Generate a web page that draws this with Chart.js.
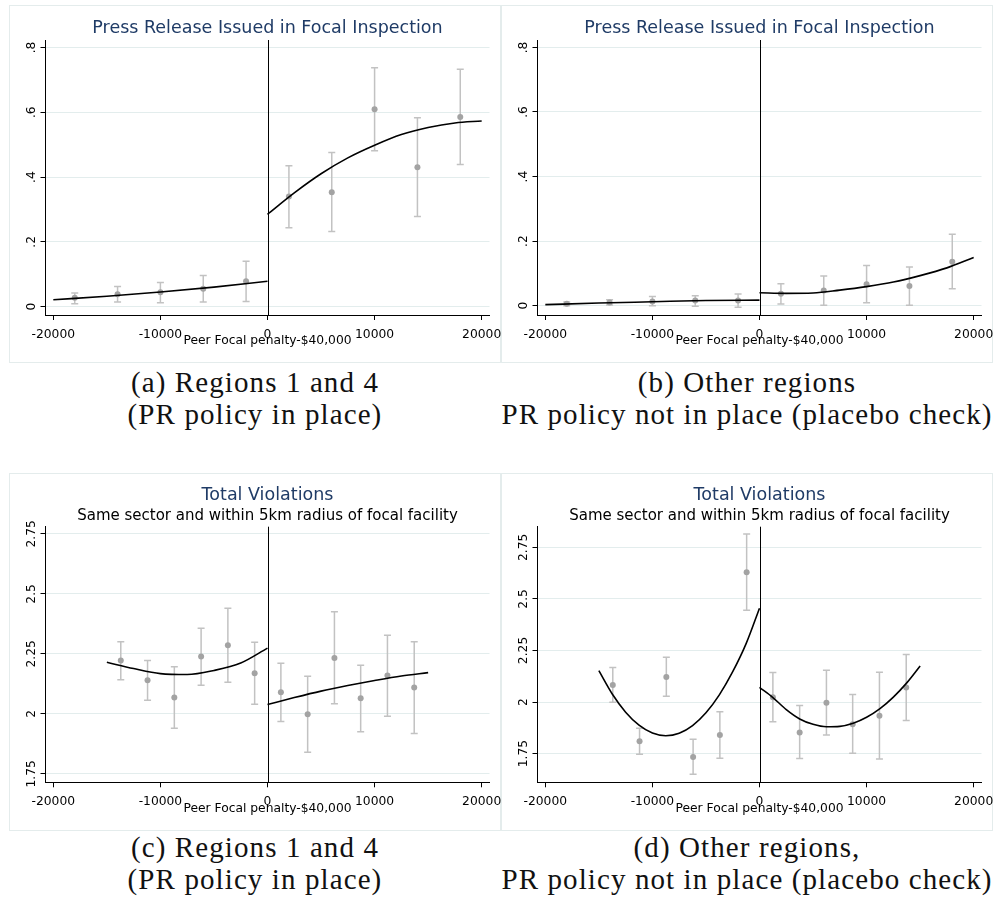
<!DOCTYPE html>
<html>
<head>
<meta charset="utf-8">
<script src="https://cdn.jsdelivr.net/npm/chart.js@4.4.1/dist/chart.umd.min.js"></script>
<style>
  body { margin: 0; background: #fff; width: 995px; height: 918px; position: relative; overflow: hidden; }
  .panel { position: absolute; width: 492px; height: 358px; border: 1px solid #e4ecec; box-sizing: border-box; }
  .panel canvas { position: absolute; left: -1px; top: -1px; }
  .cap { position: absolute; width: 492px; text-align: center; font-family: "Liberation Serif", serif;
         font-size: 29px; letter-spacing: 1.1px; line-height: 32px; color: #111; white-space: nowrap; }
</style>
</head>
<body>
<div class="panel" style="left:9px;top:5px"><canvas id="chartA" width="492" height="358"></canvas></div>
<div class="panel" style="left:501px;top:5px"><canvas id="chartB" width="492" height="358"></canvas></div>
<div class="panel" style="left:9px;top:473px"><canvas id="chartC" width="492" height="358"></canvas></div>
<div class="panel" style="left:501px;top:473px"><canvas id="chartD" width="492" height="358"></canvas></div>

<div class="cap" style="left:9px;top:366px">(a) Regions 1 and 4<br>(PR policy in place)</div>
<div class="cap" style="left:501px;top:366px">(b) Other regions<br>PR policy not in place (placebo check)</div>
<div class="cap" style="left:9px;top:831px">(c) Regions 1 and 4<br>(PR policy in place)</div>
<div class="cap" style="left:501px;top:831px">(d) Other regions,<br>PR policy not in place (placebo check)</div>

<script>
// axes
const xTicks = [-20000, -10000, 0, 10000, 20000];
const cutoff = 0;
const prTicks = [0, 0.2, 0.4, 0.6, 0.8];
const prTickLabels = ["0", ".2", ".4", ".6", ".8"];
const violTicks = [1.75, 2, 2.25, 2.5, 2.75];
const violTickLabels = ["1.75", "2", "2.25", "2.5", "2.75"];

// press release panels (a, b): binned means with 95% CI
const prBins = [-18000, -14000, -10000, -6000, -2000, 2000, 6000, 10000, 14000, 18000];
const prMeanA = [0.027, 0.038, 0.044, 0.055, 0.078, 0.340, 0.353, 0.609, 0.430, 0.585];
const prLowA  = [0.009, 0.014, 0.012, 0.014, 0.016, 0.243, 0.232, 0.481, 0.278, 0.439];
const prHighA = [0.042, 0.062, 0.074, 0.096, 0.140, 0.435, 0.476, 0.737, 0.583, 0.733];
const prMeanB = [0.006, 0.010, 0.013, 0.016, 0.016, 0.037, 0.047, 0.066, 0.061, 0.136];
const prLowB  = [0.000, 0.002, 0.000, -0.002, -0.005, 0.005, 0.001, 0.009, 0.001, 0.052];
const prHighB = [0.011, 0.018, 0.028, 0.031, 0.036, 0.068, 0.092, 0.124, 0.120, 0.221];

// fitted curves (a, b)
const prFitLeftX  = [-20000, -15000, -10000, -5000, 0];
const prFitRightX = [0, 2500, 5000, 7500, 10000, 12500, 15000, 17500, 20000];
const fitLeftA  = [0.021, 0.032, 0.045, 0.060, 0.078];
const fitRightA = [0.285, 0.351, 0.410, 0.459, 0.498, 0.531, 0.553, 0.567, 0.573];
const fitLeftB  = [0.003, 0.008, 0.012, 0.016, 0.017];
const fitRightB = [0.040, 0.038, 0.039, 0.048, 0.059, 0.073, 0.093, 0.117, 0.149];

// total violations panels (c, d)
const violBins = [-13700, -11200, -8700, -6200, -3700, -1200, 1250, 3750, 6250, 8700, 11200, 13700];
const violMeanC = [2.222, 2.140, 2.068, 2.239, 2.286, 2.169, 2.090, 1.999, 2.233, 2.065, 2.160, 2.110];
const violLowC  = [2.142, 2.057, 1.940, 2.119, 2.132, 2.040, 1.968, 1.840, 2.042, 1.926, 1.990, 1.918];
const violHighC = [2.301, 2.222, 2.196, 2.357, 2.440, 2.299, 2.211, 2.157, 2.426, 2.203, 2.328, 2.301];
const violMeanD = [2.083, 1.810, 2.122, 1.734, 1.840, 2.629, 2.023, 1.853, 1.997, 1.892, 1.934, 2.070];
const violLowD  = [1.999, 1.747, 2.028, 1.650, 1.727, 2.445, 1.905, 1.726, 1.840, 1.752, 1.724, 1.910];
const violHighD = [2.168, 1.873, 2.217, 1.820, 1.953, 2.815, 2.143, 1.983, 2.154, 2.036, 2.144, 2.230];

const fitLeftXC  = [-15000, -12500, -10000, -7500, -5000, -2500, 0];
const fitRightXC = [0, 2500, 5000, 7500, 10000, 12500, 15000];
const fitLeftC   = [2.215, 2.189, 2.168, 2.164, 2.181, 2.212, 2.274];
const fitRightC  = [2.039, 2.068, 2.095, 2.118, 2.139, 2.158, 2.172];

const fitLeftXD  = [-15000, -13750, -12500, -11250, -10000, -8750, -7500, -6250, -5000, -3750, -2500, -1250, 0];
const fitRightXD = [0, 1250, 2500, 3750, 5000, 6250, 7500, 8750, 10000, 11250, 12500, 13750, 15000];
const fitLeftD   = [2.152, 2.039, 1.951, 1.888, 1.850, 1.837, 1.849, 1.886, 1.948, 2.035, 2.147, 2.283, 2.455];
const fitRightD  = [2.071, 2.022, 1.963, 1.918, 1.892, 1.880, 1.882, 1.897, 1.926, 1.968, 2.024, 2.093, 2.175];

Chart.defaults.font.family = "DejaVu Sans";
Chart.defaults.color = "#000";

const titleColor = "#1f3b66";
const dotColor = "#a3a3a3";
const barColor = "#c2c2c2";
const gridColor = "#e3eded";

const pts = (xs, ys) => xs.map((x, i) => ({ x: x, y: ys[i] }));

// error bars, cutoff line, titles and rotated y labels
const decor = {
    id: "decor",
    beforeDatasetsDraw(chart, args, opts) {
        const { ctx, chartArea } = chart;
        const xs = chart.scales.x, ys = chart.scales.y;
        ctx.save();
        // cutoff
        const cx = Math.round(xs.getPixelForValue(cutoff)) + 0.5;
        ctx.strokeStyle = "#000";
        ctx.lineWidth = 1;
        ctx.beginPath();
        ctx.moveTo(cx, chartArea.top);
        ctx.lineTo(cx, chartArea.bottom);
        ctx.stroke();
        // CI bars
        ctx.strokeStyle = barColor;
        ctx.lineWidth = 1.5;
        opts.bins.forEach((b, i) => {
            const px = xs.getPixelForValue(b);
            const lo = ys.getPixelForValue(opts.low[i]);
            const hi = ys.getPixelForValue(opts.high[i]);
            ctx.beginPath();
            ctx.moveTo(px, lo); ctx.lineTo(px, hi);
            ctx.moveTo(px - 3.5, lo); ctx.lineTo(px + 3.5, lo);
            ctx.moveTo(px - 3.5, hi); ctx.lineTo(px + 3.5, hi);
            ctx.stroke();
        });
        ctx.restore();
    },
    afterDraw(chart, args, opts) {
        const { ctx, chartArea } = chart;
        const ys = chart.scales.y;
        const mid = (chartArea.left + chartArea.right) / 2;
        ctx.save();
        ctx.textAlign = "center";
        ctx.textBaseline = "alphabetic";
        ctx.fillStyle = titleColor;
        ctx.font = "17.5px 'DejaVu Sans'";
        ctx.fillText(opts.title, mid, opts.titleY);
        if (opts.subtitle) {
            ctx.fillStyle = "#000";
            ctx.font = "15px 'DejaVu Sans'";
            ctx.fillText(opts.subtitle, mid, opts.subtitleY);
        }
        ctx.fillStyle = "#000";
        ctx.font = "12.3px 'DejaVu Sans'";
        opts.yTicks.forEach((v, i) => {
            ctx.save();
            ctx.translate(chartArea.left - 10.5, ys.getPixelForValue(v));
            ctx.rotate(-Math.PI / 2);
            ctx.fillText(opts.yLabels[i], 0, 0);
            ctx.restore();
        });
        ctx.restore();
    }
};

function makePanel(id, p) {
    new Chart(document.getElementById(id), {
        type: "scatter",
        data: {
            datasets: [
                { data: pts(p.leftX, p.fitLeft), showLine: true, borderColor: "#000", borderWidth: 1.6,
                  pointRadius: 0, cubicInterpolationMode: "monotone" },
                { data: pts(p.rightX, p.fitRight), showLine: true, borderColor: "#000", borderWidth: 1.6,
                  pointRadius: 0, cubicInterpolationMode: "monotone" },
                { data: pts(p.bins, p.mean), pointRadius: 3, backgroundColor: dotColor, borderWidth: 0 }
            ]
        },
        options: {
            responsive: false,
            animation: false,
            devicePixelRatio: 1,
            layout: { padding: { top: p.top, right: 11.5, left: 0, bottom: 0 } },
            plugins: {
                legend: { display: false },
                tooltip: { enabled: false },
                decor: { bins: p.bins, low: p.low, high: p.high, title: p.title, subtitle: p.subtitle,
                         titleY: p.titleY, subtitleY: p.subtitleY, yTicks: p.yTicks, yLabels: p.yLabels }
            },
            scales: {
                x: {
                    type: "linear", min: -20730, max: 20730,
                    afterBuildTicks: s => { s.ticks = xTicks.map(v => ({ value: v })); },
                    afterFit: s => { s.height = p.xHeight; s.paddingLeft = 0; s.paddingRight = 0; },
                    ticks: { font: { size: 12.3 }, padding: 7.5, maxRotation: 0, callback: v => String(v) },
                    grid: { drawOnChartArea: false, tickColor: "#000", tickLength: 5 },
                    border: { color: "#000", width: 1 },
                    title: { display: true, text: "Peer Focal penalty-$40,000", font: { size: 12.3 },
                             padding: { top: 0, bottom: 15 } }
                },
                y: {
                    type: "linear", min: p.yMin, max: p.yMax,
                    afterBuildTicks: s => { s.ticks = p.yTicks.map(v => ({ value: v })); },
                    afterFit: s => { s.width = 36.5; s.paddingTop = 0; s.paddingBottom = 0; },
                    ticks: { display: false },
                    grid: { color: gridColor, tickColor: "#000", tickLength: 5 },
                    border: { color: "#000", width: 1 }
                }
            }
        },
        plugins: [decor]
    });
}

const prTitle = "Press Release Issued in Focal Inspection";
const violTitle = "Total Violations";
const violSub = "Same sector and within 5km radius of focal facility";

makePanel("chartA", { bins: prBins, mean: prMeanA, low: prLowA, high: prHighA,
    leftX: prFitLeftX, fitLeft: fitLeftA, rightX: prFitRightX, fitRight: fitRightA,
    yMin: -0.026, yMax: 0.823, yTicks: prTicks, yLabels: prTickLabels,
    title: prTitle, titleY: 28.3, top: 35, xHeight: 48 });
makePanel("chartB", { bins: prBins, mean: prMeanB, low: prLowB, high: prHighB,
    leftX: prFitLeftX, fitLeft: fitLeftB, rightX: prFitRightX, fitRight: fitRightB,
    yMin: -0.029, yMax: 0.823, yTicks: prTicks, yLabels: prTickLabels,
    title: prTitle, titleY: 28.3, top: 35, xHeight: 48 });
makePanel("chartC", { bins: violBins, mean: violMeanC, low: violLowC, high: violHighC,
    leftX: fitLeftXC, fitLeft: fitLeftC, rightX: fitRightXC, fitRight: fitRightC,
    yMin: 1.715, yMax: 2.78, yTicks: violTicks, yLabels: violTickLabels,
    title: violTitle, subtitle: violSub, titleY: 27, subtitleY: 47.3, top: 53.7, xHeight: 48.7 });
makePanel("chartD", { bins: violBins, mean: violMeanD, low: violLowD, high: violHighD,
    leftX: fitLeftXD, fitLeft: fitLeftD, rightX: fitRightXD, fitRight: fitRightD,
    yMin: 1.611, yMax: 2.85, yTicks: violTicks, yLabels: violTickLabels,
    title: violTitle, subtitle: violSub, titleY: 27, subtitleY: 47.3, top: 53.7, xHeight: 48.7 });
</script>
</body>
</html>
